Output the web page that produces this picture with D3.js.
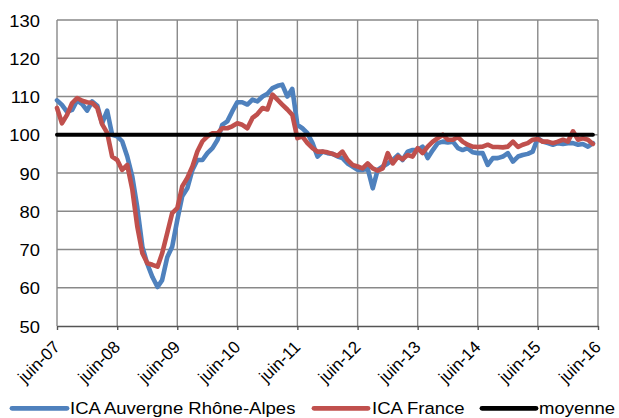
<!DOCTYPE html>
<html>
<head>
<meta charset="utf-8">
<script src="https://cdn.jsdelivr.net/npm/d3@7"></script>
<style>
  html, body { margin: 0; padding: 0; background: #fff; }
  svg { display: block; font-family: "Liberation Sans", Arial, sans-serif; }
</style>
</head>
<body>
<svg id="chart" width="619" height="418"></svg>
<script>
// ---- Data (monthly, starting June 2007) ----
const startMonth = new Date(2007, 5, 1);
const auvergneRhoneAlpes = [
  109, 107.8, 106, 106.5, 109, 108, 106.3, 108.7, 107.6, 103, 106.3, 100,
  99.6, 98.3, 94.3, 89, 81, 70.7, 66.2, 62.8, 60.2, 62, 68, 70.7,
  77.7, 83.9, 86, 90.8, 93.4, 93.4, 95.2, 96.5, 98.7, 102.6, 103.5, 106.1,
  108.5, 108.5, 107.9, 109.2, 108.7, 110, 110.7, 112.2, 112.8, 113.1, 110, 112,
  102.6, 101.7, 100.4, 97.8, 94.3, 95.6, 95.2, 95, 94.3, 93.9, 92.5, 91.7,
  90.8, 90.8, 91.2, 86, 90.8, 91.7, 92.5, 93.4, 94.7, 93.4, 95.6, 96,
  96, 96.9, 93.9, 96, 97.8, 98.2, 98, 98.2, 96.5, 96, 96.5, 95.4,
  95.2, 95.2, 92.1, 93.9, 93.9, 94.3, 95.2, 93, 94.3, 94.7, 95, 95.6,
  99.1, 98.2, 97.8, 97.4, 97.8, 97.6, 97.8, 97.8, 97.4, 97.6, 96.9, 97.8
];
const france = [
  107, 103, 105.2, 108.3, 109.6, 108.9, 108.5, 108.3, 107, 102.8, 100.5, 94.3,
  93.4, 90.8, 92.1, 85.6, 76, 69, 66.4, 66, 65.5, 69, 74.3, 79.5,
  80.8, 86.5, 88.7, 91.7, 95.6, 98.3, 99.6, 100.4, 100.4, 101.7, 101.7, 102.2,
  103, 102.6, 101.7, 104.4, 105.4, 107, 106.6, 110.5, 109.1, 107.9, 106.6, 105.2,
  99.1, 99.6, 97.8, 96.5, 95.6, 95.6, 95.4, 95, 94.5, 95.6, 93.4, 92.1,
  91.7, 91.2, 92.5, 91.2, 90.6, 91.2, 95.2, 92.5, 94.3, 93.6, 94.7, 94.3,
  96.5, 95.2, 96.9, 98.2, 99.1, 100, 98.7, 98.7, 99.4, 98.2, 97.4, 96.9,
  96.8, 96.9, 97.4, 96.8, 96.8, 96.7, 96.9, 98.2, 96.8, 97.4, 97.8, 98.7,
  98.9, 98.2, 98.2, 97.8, 98.2, 98.7, 98.2, 100.9, 98.7, 99.1, 98.7, 97.6
];
const moyenne = new Array(auvergneRhoneAlpes.length).fill(100);
const yTicks = [50, 60, 70, 80, 90, 100, 110, 120, 130];
const xTickYears = [2007, 2008, 2009, 2010, 2011, 2012, 2013, 2014, 2015, 2016];
const seriesNames = ["ICA Auvergne Rhône-Alpes", "ICA France", "moyenne"];
const seriesColors = ["#4F81BD", "#C0504D", "#000000"];

// ---- Setup ----
const months = auvergneRhoneAlpes.map((_, i) => d3.timeMonth.offset(startMonth, i));
const margin = { left: 57, right: 21, top: 20, bottom: 92 };
const W = 619, H = 418;
const svg = d3.select("#chart");

const x = d3.scaleTime()
  .domain([new Date(2007, 5, 1), new Date(2016, 5, 1)])
  .range([margin.left, W - margin.right]);
const y = d3.scaleLinear().domain([50, 130]).range([H - margin.bottom, margin.top]);

const fr = d3.timeFormatLocale({
  dateTime: "%A %e %B %Y à %X", date: "%d/%m/%Y", time: "%H:%M:%S",
  periods: ["AM", "PM"],
  days: ["dimanche","lundi","mardi","mercredi","jeudi","vendredi","samedi"],
  shortDays: ["dim.","lun.","mar.","mer.","jeu.","ven.","sam."],
  months: ["janvier","février","mars","avril","mai","juin","juillet","août","septembre","octobre","novembre","décembre"],
  shortMonths: ["janv.","févr.","mars","avr.","mai","juin","juil.","août","sept.","oct.","nov.","déc."]
});
const fmt = fr.format("%B-%y");
const xTickDates = xTickYears.map(yr => new Date(yr, 5, 1));

// ---- Grid ----
const grid = svg.append("g");
grid.selectAll("line.h").data(yTicks.filter(v => v > 50)).enter().append("line")
  .attr("x1", x.range()[0]).attr("x2", x.range()[1])
  .attr("y1", d => y(d)).attr("y2", d => y(d))
  .attr("stroke", "#898989").attr("stroke-width", 1.4);
grid.selectAll("line.v").data(xTickDates).enter().append("line")
  .attr("x1", d => x(d)).attr("x2", d => x(d))
  .attr("y1", y(130)).attr("y2", y(50))
  .attr("stroke", "#898989").attr("stroke-width", 1.4);

// ---- Y axis labels ----
const yAxis = svg.append("g").attr("transform", `translate(${margin.left},0)`)
  .call(d3.axisLeft(y).tickValues(yTicks).tickSize(0).tickPadding(0));
yAxis.select(".domain").remove();
yAxis.selectAll("text")
  .attr("x", 0).attr("dy", "0.36em")
  .attr("font-size", 17).attr("fill", "#000")
  .attr("font-family", "Liberation Sans, Arial, sans-serif")
  .attr("text-anchor", "end")
  .attr("transform", "translate(-17,0) scale(1.08,1)");

// ---- X axis ----
const xAxis = svg.append("g").attr("transform", `translate(0,${y(50)})`)
  .call(d3.axisBottom(x).tickValues(xTickDates).tickFormat(fmt).tickSize(4).tickSizeOuter(0));
xAxis.select(".domain").attr("stroke", "#555").attr("stroke-width", 1.4);
xAxis.selectAll(".tick line").attr("stroke", "#555").attr("stroke-width", 1.4);
xAxis.selectAll("text")
  .attr("x", 0).attr("y", 0).attr("dy", 0)
  .attr("font-size", 17).attr("fill", "#000")
  .attr("font-family", "Liberation Sans, Arial, sans-serif")
  .attr("text-anchor", "end")
  .attr("transform", "translate(3.5,22) rotate(-45)");

// ---- Lines ----
const line = d3.line().x((d, i) => x(months[i])).y(d => y(d));
const allSeries = [auvergneRhoneAlpes, france, moyenne];
svg.append("g").selectAll("path").data(allSeries).enter().append("path")
  .attr("d", d => line(d))
  .attr("fill", "none")
  .attr("stroke", (d, i) => seriesColors[i])
  .attr("stroke-width", (d, i) => i === 2 ? 4 : 4.6)
  .attr("stroke-linejoin", "round")
  .attr("stroke-linecap", "round");

// ---- Legend ----
const legendItems = [
  { x1: 12, x2: 67, tx: 70 },
  { x1: 314, x2: 368, tx: 372 },
  { x1: 482, x2: 536, tx: 539 }
];
const lg = svg.append("g");
legendItems.forEach((it, i) => {
  lg.append("line")
    .attr("x1", it.x1).attr("x2", it.x2).attr("y1", 408.3).attr("y2", 408.3)
    .attr("stroke", seriesColors[i]).attr("stroke-width", 4.8).attr("stroke-linecap", "round");
  lg.append("text")
    .attr("transform", `translate(${it.tx},414.2) scale(1.09,1)`)
    .attr("font-size", 17).attr("fill", "#000")
    .text(seriesNames[i]);
});
</script>
</body>
</html>
